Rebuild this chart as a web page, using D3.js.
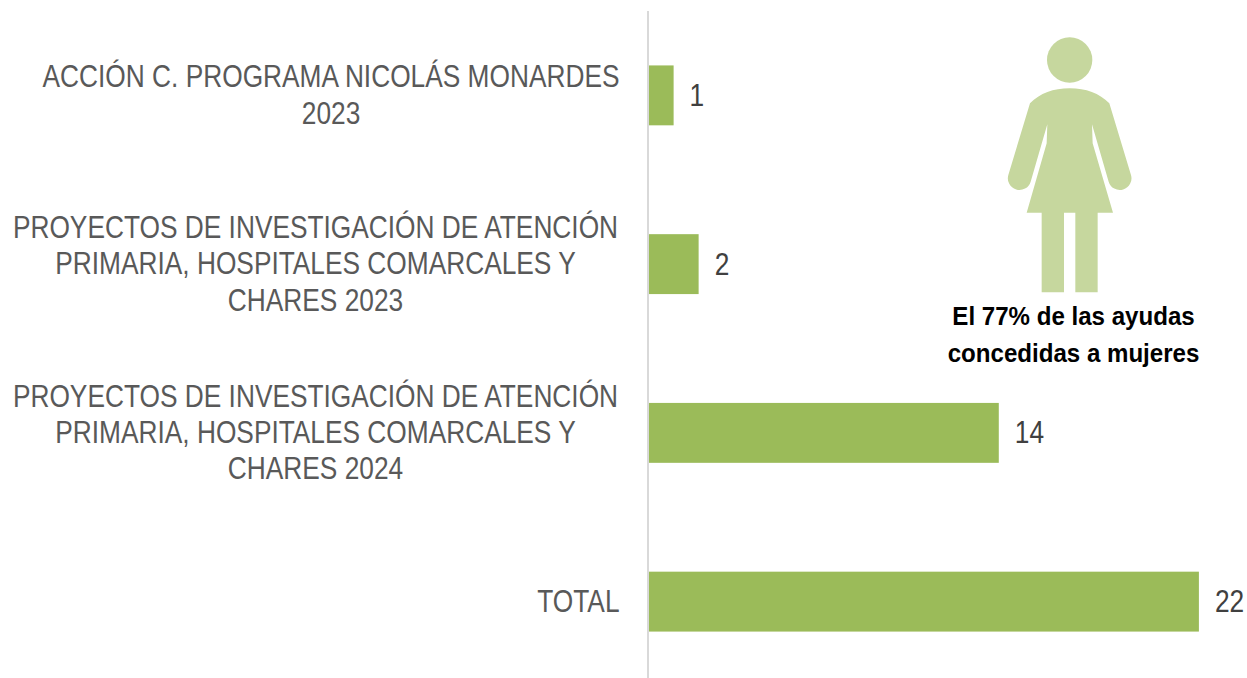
<!DOCTYPE html>
<html><head><meta charset="utf-8">
<script src="https://cdn.jsdelivr.net/npm/d3@7"></script>
<style>html,body{margin:0;padding:0;background:#fff}svg{display:block}</style></head>
<body><svg id="c" width="1247" height="678"></svg>
<script>
const categories = ["ACCIÓN C. PROGRAMA NICOLÁS MONARDES 2023","PROYECTOS DE INVESTIGACIÓN DE ATENCIÓN PRIMARIA, HOSPITALES COMARCALES Y CHARES 2023","PROYECTOS DE INVESTIGACIÓN DE ATENCIÓN PRIMARIA, HOSPITALES COMARCALES Y CHARES 2024","TOTAL"];
const categoryLines = [["ACCIÓN C. PROGRAMA NICOLÁS MONARDES","2023"],["PROYECTOS DE INVESTIGACIÓN DE ATENCIÓN","PRIMARIA, HOSPITALES COMARCALES Y","CHARES 2023"],["PROYECTOS DE INVESTIGACIÓN DE ATENCIÓN","PRIMARIA, HOSPITALES COMARCALES Y","CHARES 2024"],["TOTAL"]];
const values = [1,2,14,22];
const noteLines = ["El 77% de las ayudas","concedidas a mujeres"];

const font = "'Liberation Sans',Arial,sans-serif";
const narrow = 0.835;
const svg = d3.select("#c");
const x = d3.scaleLinear().domain([0,22]).range([648.6,1198.9]);
const y = d3.scaleBand().domain(categories).range([11,686]).paddingInner(0.645).paddingOuter(0.3225);

svg.append("g").selectAll("rect").data(values).join("rect")
  .attr("x",x(0)).attr("width",d=>x(d)-x(0))
  .attr("y",(d,i)=>y(categories[i])).attr("height",y.bandwidth())
  .attr("fill","#9bbb59");

svg.append("line").attr("x1",648).attr("x2",648).attr("y1",11).attr("y2",678)
  .attr("stroke","#d9d9d9").attr("stroke-width",2);

svg.append("g").selectAll("text").data(values).join("text")
  .attr("transform",(d,i)=>`translate(${x(d)+16},${y(categories[i])+y.bandwidth()/2+10.5}) scale(${narrow},1)`)
  .attr("font-family",font).attr("font-size",31.5).attr("fill","#404040").text(d=>d);

const lh = 36.4;
const anchorX = [331,315.5,315.5,619.5];
categoryLines.forEach((lines,i)=>{
  const cy = y(categories[i])+y.bandwidth()/2;
  lines.forEach((l,j)=>{
    svg.append("text")
      .attr("transform",`translate(${anchorX[i]},${cy+10.2+(j-(lines.length-1)/2)*lh}) scale(${narrow},1)`)
      .attr("font-family",font).attr("font-size",31.5).attr("fill","#595959")
      .attr("text-anchor",lines.length>1?"middle":"end").text(l);
  });
});

// pictogram
const fig = svg.append("g").attr("transform","translate(990,25) scale(0.3333)").attr("fill","#c6d79e");
fig.append("circle").attr("cx",239).attr("cy",105).attr("r",68);
fig.append("path").attr("d","M239,190 C190,190 150,205 120,235 L55,450 A34.5,34.5 0 0 0 122,470 L172,298 L170,355 L110,563 L155,563 L155,802 L222,802 L222,563 L256,563 L256,802 L323,802 L323,563 L369,563 L308,355 L306,298 L356,470 A34.5,34.5 0 0 0 423,450 L358,235 C328,205 288,190 239,190 Z");

noteLines.forEach((l,j)=>svg.append("text")
  .attr("transform",`translate(1073.5,${325+j*37}) scale(0.945,1)`)
  .attr("font-family",font).attr("font-weight","bold").attr("font-size",25.5).attr("fill","#000")
  .attr("text-anchor","middle").text(l));
</script></body></html>
